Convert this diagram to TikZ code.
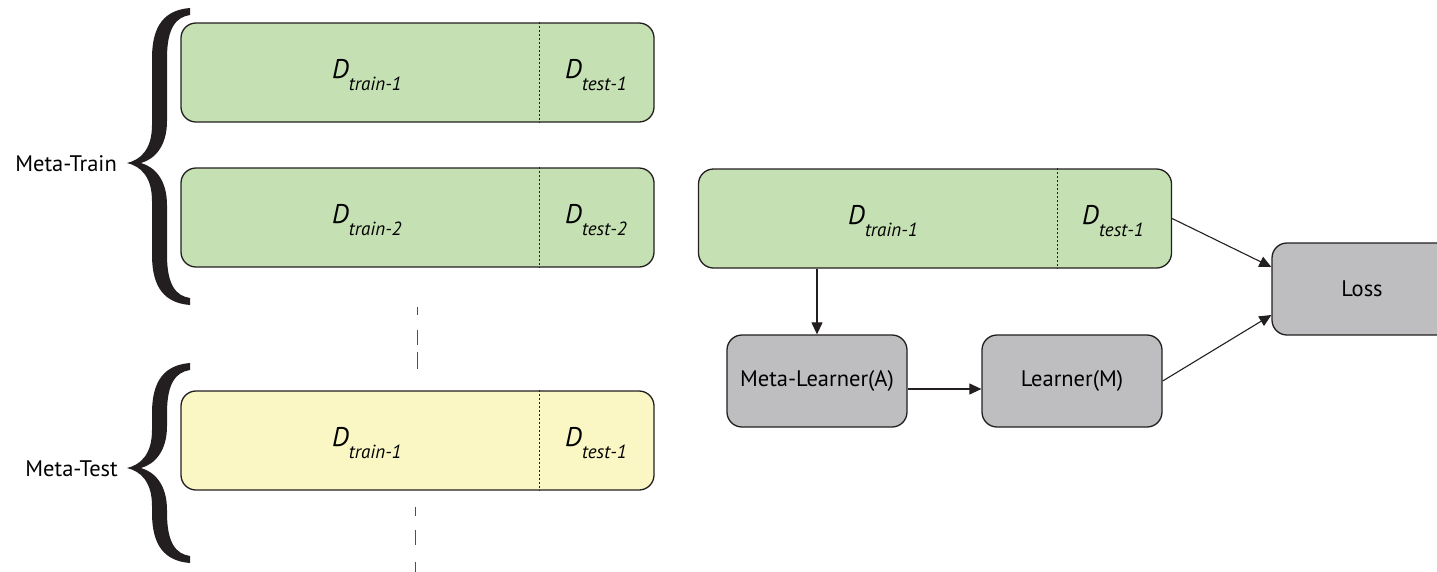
\documentclass[tikz,border=0pt]{standalone}
\usepackage{fontspec}
\setmainfont{PT Sans}
\usetikzlibrary{arrows.meta,calc}

\definecolor{trainfill}{RGB}{197,224,178}
\definecolor{testfill}{RGB}{250,247,196}
\definecolor{procfill}{RGB}{190,190,192}
\definecolor{inkline}{RGB}{35,31,32}
\definecolor{dashgray}{RGB}{80,80,80}

% italic D with a lowered italic index
\newcommand\dset[1]{{\fontsize{27}{30}\selectfont\itshape D}\raisebox{-12pt}{\fontsize{19}{22}\selectfont\itshape #1}}

% filled curly brace: top y, tip y, bottom y (y grows downwards)
\newcommand\curlybrace[3]{%
  \fill[inkline] (190,#1) .. controls (165,{#1+2}) and (152,{#1+17}) .. (152,{#1+50})
    -- (152,{#2-38}) .. controls (152,{#2-13}) and (140,{#2-3}) .. (127,#2)
    .. controls (140,{#2+3}) and (152,{#2+13}) .. (152,{#2+38})
    -- (152,{#3-50}) .. controls (152,{#3-17}) and (165,{#3-2}) .. (190,#3)
    -- (190,{#3-7}) .. controls (176,{#3-9}) and (167,{#3-20}) .. (167,{#3-50})
    -- (167,{#2+42}) .. controls (167,{#2+17}) and (155,{#2+4}) .. (141,#2)
    .. controls (155,{#2-4}) and (167,{#2-17}) .. (167,{#2-42})
    -- (167,{#1+50}) .. controls (167,{#1+20}) and (176,{#1+9}) .. (190,{#1+7}) -- cycle;}

\tikzset{
  x=1pt, y=-1pt,
  splitbox/.style={draw=inkline, line width=1.3pt, rounded corners=15pt,
    minimum width=473pt, minimum height=99pt, inner sep=0pt},
  trainbox/.style={splitbox, fill=trainfill},
  testbox/.style={splitbox, fill=testfill},
  procbox/.style={draw=inkline, line width=1.3pt, rounded corners=15pt, fill=procfill,
    minimum width=180pt, minimum height=92pt, inner sep=0pt,
    font=\fontsize{22.5}{26}\selectfont},
  sidelabel/.style={font=\fontsize{22.5}{26}\selectfont, anchor=east, inner sep=0pt},
  setlabel/.style={anchor=base west, inner sep=0pt},
  divider/.style={draw=inkline, line width=1.2pt, dash pattern=on 2pt off 2pt},
  gapdash/.style={draw=dashgray, line width=1.5pt},
  flow/.style={draw=inkline, line width=1.1pt, -{Triangle[length=12pt,width=11pt]}},
}

\begin{document}
\begin{tikzpicture}
\useasboundingbox (0,0) rectangle (1437,571);
\clip (0,0) rectangle (1437,571);

% ---- left column: task splits ----
\node[trainbox] (tr1) at (417.5,72.5) {};
\node[trainbox] (tr2) at (417.5,217.5) {};
\node[testbox]  (te1) at (417.5,440.5) {};

\draw[divider] ($(tr1.north west)+(359,0)$) -- ($(tr1.south west)+(359,0)$);
\draw[divider] ($(tr2.north west)+(359,0)$) -- ($(tr2.south west)+(359,0)$);
\draw[divider] ($(te1.north west)+(359,0)$) -- ($(te1.south west)+(359,0)$);

\node[setlabel] (tr1a) at (332,78) {\dset{train-1}};
\node[setlabel] (tr1b) at (565,78) {\dset{test-1}};
\node[setlabel] (tr2a) at (332,223) {\dset{train-2}};
\node[setlabel] (tr2b) at (565,223) {\dset{test-2}};
\node[setlabel] (te1a) at (332,446) {\dset{train-1}};
\node[setlabel] (te1b) at (565,446) {\dset{test-1}};

% elision marks between the splits
\draw[gapdash, dash pattern=on 8pt off 15pt on 15pt off 7pt on 18pt off 40pt]
  ($(tr2.south)+(0,39)$) -- ($(te1.north)+(0,-21)$);
\draw[gapdash, dash pattern=on 9pt off 14pt on 15pt off 17pt on 12pt off 40pt]
  ($(te1.south)+(-2,16)$) -- ($(te1.south)+(-2,82)$);

% braces and phase names
\curlybrace{8}{163}{305}
\curlybrace{363}{468}{563}
\node[sidelabel] (mtrain) at (117,164) {Meta-Train};
\node[sidelabel] (mtest) at (118,469) {Meta-Test};

% ---- right side: one meta-training episode ----
\node[trainbox] (ep) at (935,218.5) {};
\draw[divider] ($(ep.north west)+(360,0)$) -- ($(ep.south west)+(360,0)$);
\node[setlabel] (epa) at (848,224) {\dset{train-1}};
\node[setlabel] (epb) at (1082,224) {\dset{test-1}};

\node[procbox] (ml) at (817,381) {Meta-Learner(A)};
\node[procbox] (lr) at (1072,381) {Learner(M)};
\node[procbox] (loss) at (1362,289) {Loss};

\draw[flow] (ml.north |- ep.south) -- (ml.north);
\draw[flow] ([yshift=-8pt]ml.east) -- ([yshift=-8pt]lr.west);
\draw[flow] (ep.east) -- ([yshift=22pt]loss.west);
\draw[flow] (lr.east) -- ([yshift=-26pt]loss.west);
\end{tikzpicture}
\end{document}
